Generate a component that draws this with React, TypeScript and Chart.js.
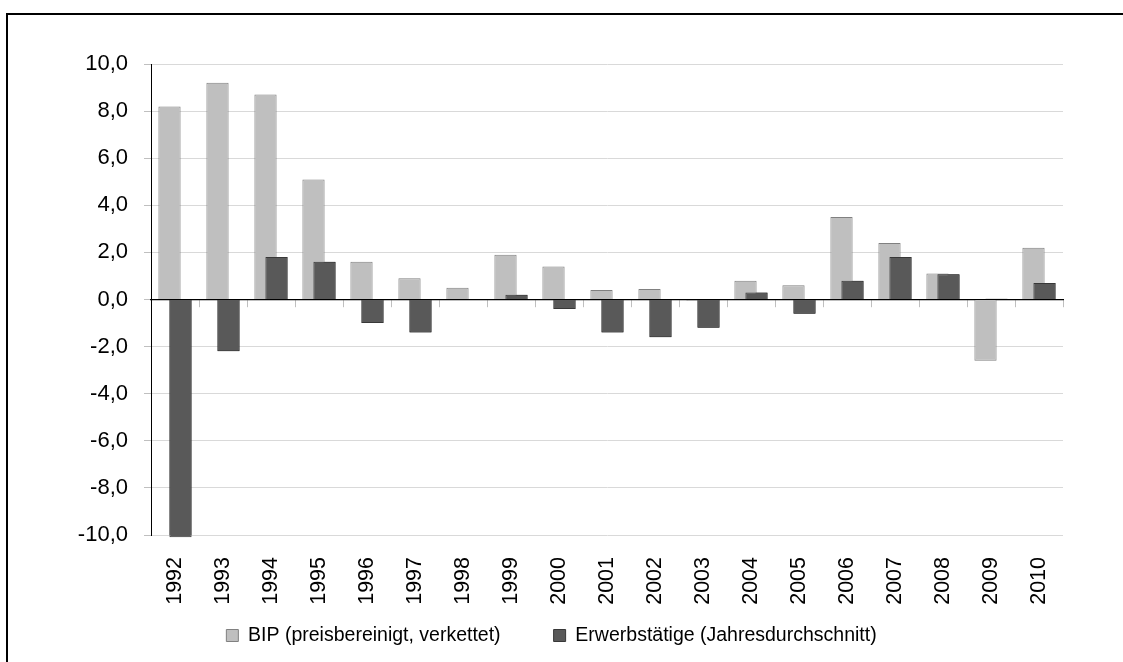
import React, { useEffect, useRef } from "react";
import { Chart, registerables } from "chart.js";

Chart.register(...registerables);

const years = [
  "1992", "1993", "1994", "1995", "1996", "1997", "1998", "1999", "2000", "2001",
  "2002", "2003", "2004", "2005", "2006", "2007", "2008", "2009", "2010",
];
const bipValues = [8.2, 9.2, 8.7, 5.1, 1.6, 0.9, 0.5, 1.9, 1.4, 0.4, 0.45, -0.05, 0.8, 0.6, 3.5, 2.4, 1.1, -2.6, 2.2];
const erwerbValues = [-10.1, -2.2, 1.8, 1.6, -1.0, -1.4, 0.0, 0.2, -0.4, -1.4, -1.6, -1.2, 0.3, -0.6, 0.8, 1.8, 1.07, 0.03, 0.7];
const yTickValues = [-10, -8, -6, -4, -2, 0, 2, 4, 6, 8, 10];
const seriesLabels = ["BIP (preisbereinigt, verkettet)", "Erwerbstätige (Jahresdurchschnitt)"];

const FONT = "'Liberation Sans', Arial, sans-serif";

const darkOnTop = {
  id: "darkOnTop",
  afterDatasetsDraw(chart: any) {
    const meta = chart.getDatasetMeta(1);
    if (!meta || meta.hidden) return;
    const a = chart.chartArea;
    const ctx = chart.ctx;
    ctx.save();
    ctx.beginPath();
    ctx.rect(a.left, a.top - 3, a.right - a.left, a.bottom - a.top + 6);
    ctx.clip();
    meta.controller.draw();
    ctx.restore();
  },
};

export default function App() {
  const canvasRef = useRef<HTMLCanvasElement | null>(null);

  useEffect(() => {
    const canvas = canvasRef.current;
    if (!canvas) return;
    const chart = new Chart(canvas, {
      type: "bar",
      data: {
        labels: years,
        datasets: [
          {
            label: seriesLabels[0],
            data: bipValues,
            xAxisID: "x",
            yAxisID: "y",
            backgroundColor: "#BFBFBF",
            borderColor: "#808080",
            borderWidth: 1,
            categoryPercentage: 22 / 48,
            barPercentage: 2.02,
          },
          {
            label: seriesLabels[1],
            data: erwerbValues,
            xAxisID: "x",
            yAxisID: "y",
            backgroundColor: "#595959",
            borderColor: "#383838",
            borderWidth: 1,
            categoryPercentage: 22 / 48,
            barPercentage: 2.02,
          },
        ],
      },
      options: {
        responsive: false,
        animation: false,
        layout: { padding: { top: 64, right: 20, bottom: 6.75, left: 0 } },
        plugins: {
          tooltip: { enabled: false },
          legend: {
            position: "bottom",
            labels: {
              font: { family: FONT, size: 19.5 },
              color: "#000",
              boxWidth: 12,
              boxHeight: 12,
              padding: 53,
            },
          },
        },
        scales: {
          x: {
            type: "category",
            position: { y: -10 },
            grid: { display: false, drawTicks: false },
            border: { display: false },
            ticks: {
              font: { family: FONT, size: 21.5 },
              color: "#000",
              minRotation: 90,
              maxRotation: 90,
              autoSkip: false,
              padding: 22,
            },
          },
          x0: {
            type: "category",
            position: { y: 0 },
            offset: true,
            z: 1,
            grid: {
              display: true,
              drawOnChartArea: false,
              drawTicks: true,
              tickLength: 7,
              color: "#BFBFBF",
              offset: true,
            },
            ticks: { display: false },
            border: { display: true, color: "#000", width: 1.2 },
          },
          xs: {
            type: "category",
            position: "bottom",
            grid: { display: false, drawTicks: false },
            border: { display: false },
            ticks: { display: false },
            afterFit: (s: any) => {
              s.height = 37.75;
            },
          },
          y: {
            type: "linear",
            position: "left",
            min: -10,
            max: 10,
            afterBuildTicks: (s: any) => {
              s.ticks = yTickValues.map((v) => ({ value: v }));
            },
            grid: {
              color: "#D9D9D9",
              tickColor: "#BFBFBF",
              tickLength: 7,
              lineWidth: 1,
            },
            border: { display: true, color: "#000", width: 1 },
            ticks: {
              font: { family: FONT, size: 22 },
              color: "#000",
              padding: 16,
              callback: (v: any) => Number(v).toFixed(1).replace(".", ","),
            },
            afterFit: (s: any) => {
              s.width = 151;
            },
          },
          yR: {
            type: "linear",
            position: "right",
            grid: { display: false, drawTicks: false },
            border: { display: false },
            ticks: { display: false },
            afterFit: (s: any) => {
              s.width = 40;
            },
          },
        },
      } as any,
      plugins: [darkOnTop],
    });
    return () => chart.destroy();
  }, []);

  return (
    <div style={{ position: "fixed", left: 0, top: 0, width: 1123, height: 662, overflow: "hidden", background: "#fff" }}>
      <div
        style={{
          position: "absolute",
          left: 6,
          top: 13,
          width: 1200,
          height: 700,
          border: "2px solid #000",
          boxSizing: "border-box",
        }}
      />
      <canvas
        ref={canvasRef}
        width={1123}
        height={662}
        style={{ position: "absolute", left: 0, top: 0, display: "block" }}
      />
    </div>
  );
}
